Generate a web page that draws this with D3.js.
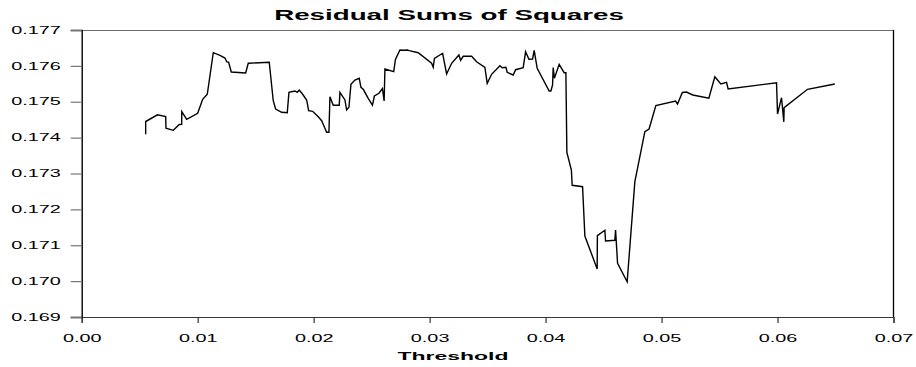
<!DOCTYPE html>
<html>
<head>
<script src="https://d3js.org/d3.v7.min.js"></script>
<style>
  body { margin: 0; background: #fff; }
  text { font-family: "Liberation Sans", Arial, sans-serif; }
</style>
</head>
<body>
<div id="graph"></div>
<script>

var w = 916;
var h = 367;

// threshold values (x) and residual sums of squares (y)
var thresholds = [
  0.005517, 0.005517, 0.006534, 0.007241, 0.007267, 0.007897, 0.008414, 0.008621, 0.008630, 0.009052,
  0.010000, 0.010431, 0.010828, 0.011345, 0.011922, 0.012353, 0.012500, 0.012672, 0.012897, 0.014138,
  0.014362, 0.016172, 0.016517, 0.016724, 0.017241, 0.017724, 0.017871, 0.018388, 0.018586, 0.018759,
  0.019052, 0.019397, 0.019569, 0.019914, 0.020397, 0.020690, 0.020914, 0.021121, 0.021319, 0.021405,
  0.021690, 0.022207, 0.022267, 0.022698, 0.022845, 0.023043, 0.023216, 0.023560, 0.023931, 0.024078,
  0.024276, 0.024707, 0.025069, 0.025241, 0.025629, 0.025931, 0.026078, 0.026147, 0.026905, 0.027052,
  0.027440, 0.027724, 0.028086, 0.028240, 0.029017, 0.030172, 0.030310, 0.030414, 0.031121, 0.031466,
  0.031897, 0.032526, 0.032672, 0.032897, 0.033621, 0.034052, 0.034767, 0.034966, 0.035345, 0.036060,
  0.036259, 0.036578, 0.036690, 0.037207, 0.037414, 0.038069, 0.038276, 0.038560, 0.038879, 0.039017,
  0.039276, 0.040310, 0.040457, 0.040603, 0.040655, 0.040759, 0.041172, 0.041603, 0.041750, 0.041836,
  0.042224, 0.042293, 0.043190, 0.043388, 0.044448, 0.044466, 0.045112, 0.045170, 0.045974, 0.046034,
  0.046207, 0.047034, 0.047698, 0.048560, 0.048922, 0.049509, 0.051207, 0.051379, 0.051793, 0.052138,
  0.052698, 0.054078, 0.054595, 0.055112, 0.055603, 0.055741, 0.059914, 0.060000, 0.060345, 0.060543,
  0.060569, 0.062586, 0.064940
];

var rss = [
  0.174093, 0.174449, 0.174636, 0.174589, 0.174260, 0.174204, 0.174366, 0.174371, 0.174723, 0.174511,
  0.174678, 0.175068, 0.175208, 0.176367, 0.176295, 0.176219, 0.176116, 0.176100, 0.175829, 0.175801,
  0.176072, 0.176100, 0.175029, 0.174798, 0.174706, 0.174692, 0.175263, 0.175300, 0.175263, 0.175328,
  0.175208, 0.175049, 0.174750, 0.174734, 0.174583, 0.174472, 0.174305, 0.174148, 0.174148, 0.175141,
  0.174901, 0.174901, 0.175263, 0.175049, 0.174770, 0.174845, 0.175486, 0.175606, 0.175654, 0.175403,
  0.175347, 0.175096, 0.174904, 0.175160, 0.175236, 0.175369, 0.175021, 0.175913, 0.175838, 0.176178,
  0.176443, 0.176434, 0.176443, 0.176425, 0.176367, 0.176072, 0.175960, 0.176206, 0.176351, 0.175774,
  0.176072, 0.176303, 0.176155, 0.176267, 0.176267, 0.176116, 0.175960, 0.175514, 0.175765, 0.176005,
  0.175949, 0.175960, 0.175821, 0.175746, 0.175893, 0.175949, 0.176395, 0.176183, 0.176192, 0.176434,
  0.175932, 0.175300, 0.175300, 0.175467, 0.175955, 0.175654, 0.176044, 0.175810, 0.175810, 0.173585,
  0.173098, 0.172671, 0.172632, 0.171258, 0.170338, 0.171266, 0.171417, 0.171118, 0.171138, 0.171425,
  0.170497, 0.169984, 0.172771, 0.174165, 0.174240, 0.174895, 0.175021, 0.174937, 0.175258, 0.175272,
  0.175188, 0.175096, 0.175698, 0.175495, 0.175542, 0.175355, 0.175531, 0.174659, 0.175113, 0.174440,
  0.174834, 0.175347, 0.175495
];

var xTicks = [0, 0.01, 0.02, 0.03, 0.04, 0.05, 0.06, 0.07];
var yTicks = [0.169, 0.170, 0.171, 0.172, 0.173, 0.174, 0.175, 0.176, 0.177];

var titleText = "Residual Sums of Squares";
var xLabelText = "Threshold";

// the reference text is drawn wide, about twice its normal width
var stretch = 1.98;

var pLeft = 81.7, pRight = 893.5, pTop = 30, pBottom = 317;

var svg = d3.select("#graph")
  .append("svg")
  .attr("width", w)
  .attr("height", h);

var x = d3.scaleLinear().domain([0, 0.07]).range([pLeft, pRight]);
var y = d3.scaleLinear().domain([0.169, 0.177]).range([pBottom, pTop]);

// frame: top and right edges
svg.append("line")
  .attr("x1", pLeft).attr("x2", pRight)
  .attr("y1", pTop + 0.5).attr("y2", pTop + 0.5)
  .attr("stroke", "#6e6e6e").attr("stroke-width", 1.2);
svg.append("line")
  .attr("x1", pRight).attr("x2", pRight)
  .attr("y1", pTop).attr("y2", pBottom)
  .attr("stroke", "#000").attr("stroke-width", 1.3);

// axes
var xAxis = svg.append("g")
  .attr("transform", "translate(0," + pBottom + ")")
  .call(d3.axisBottom(x).tickValues(xTicks).tickSize(6).tickPadding(12)
    .tickFormat(d3.format(".2f")));

var yAxis = svg.append("g")
  .attr("transform", "translate(" + pLeft + ",0)")
  .call(d3.axisLeft(y).tickValues(yTicks).tickSize(11).tickPadding(10)
    .tickFormat(d3.format(".3f")));

xAxis.select(".domain").attr("stroke", "#3a3a3a").attr("stroke-width", 1.2);
xAxis.selectAll(".tick line").attr("stroke", "#333").attr("stroke-width", 1.2);
yAxis.select(".domain").attr("stroke", "#000").attr("stroke-width", 1.4);
yAxis.selectAll(".tick line").attr("stroke", "#777").attr("stroke-width", 1.2);

xAxis.selectAll(".tick text")
  .attr("font-family", "Liberation Sans, Arial, sans-serif")
  .attr("font-size", "10px")
  .attr("fill", "#000");
yAxis.selectAll(".tick text")
  .attr("font-family", "Liberation Sans, Arial, sans-serif")
  .attr("font-size", "10px")
  .attr("fill", "#000");

// the line
var line = d3.line()
  .x(function(d, i) { return x(thresholds[i]); })
  .y(function(d) { return y(d); });

svg.append("path")
  .datum(rss)
  .attr("d", line)
  .attr("fill", "none")
  .attr("stroke", "#000")
  .attr("stroke-width", 1.4)
  .attr("stroke-linejoin", "miter");

// title and axis label
svg.append("text")
  .attr("class", "title")
  .attr("x", 449)
  .attr("y", 19.5)
  .attr("text-anchor", "middle")
  .attr("font-size", "14px")
  .attr("font-weight", "bold")
  .text(titleText);

svg.append("text")
  .attr("class", "xlabel")
  .attr("x", 453)
  .attr("y", 359.5)
  .attr("text-anchor", "middle")
  .attr("font-size", "11.6px")
  .attr("font-weight", "bold")
  .text(xLabelText);

// widen every text
svg.selectAll("text").each(function() {
  var len = this.getComputedTextLength();
  d3.select(this)
    .attr("textLength", len * stretch)
    .attr("lengthAdjust", "spacingAndGlyphs");
});

</script>
</body>
</html>
